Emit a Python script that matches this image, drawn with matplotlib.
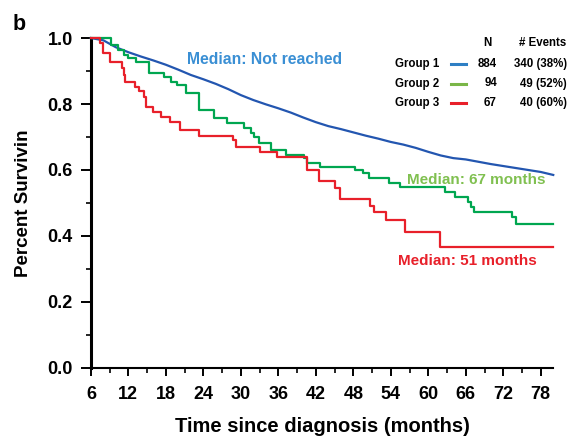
import numpy as np
import matplotlib.pyplot as plt
from matplotlib.ticker import MultipleLocator

plt.rcParams['font.family'] = ['Liberation Sans', 'DejaVu Sans']
plt.rcParams['font.weight'] = 'bold'

# Group 1 (read at 2-month steps)
t1 = [6, 8, 10, 12, 14, 16, 18, 20, 22, 24, 26, 28, 30, 32, 34, 36, 38, 40, 42,
      44, 46, 48, 50, 52, 54, 56, 58, 60, 62, 64, 66, 68, 70, 72, 74, 76, 78, 80]
s1 = [1.0, 0.993, 0.972, 0.957, 0.944, 0.932, 0.919, 0.904, 0.888, 0.875, 0.861,
      0.845, 0.827, 0.812, 0.799, 0.787, 0.774, 0.759, 0.745, 0.733, 0.724, 0.714,
      0.704, 0.695, 0.685, 0.677, 0.667, 0.655, 0.644, 0.636, 0.632, 0.625, 0.618,
      0.612, 0.606, 0.600, 0.594, 0.585]

# Group 2
t2 = [6, 9.2, 10.3, 11.3, 11.9, 13.2, 15.3, 17.7, 18.8, 19.8, 21.2, 23.3, 25.7,
      27.8, 30.5, 31.6, 32.1, 32.9, 34.8, 37.2, 40.1, 40.6, 42.7, 48.3, 49.6,
      50.5, 53.7, 55.5, 62.7, 64.3, 66.4, 66.8, 67.3, 73.4, 74.0, 80]
s2 = [1.0, 0.979, 0.964, 0.950, 0.938, 0.926, 0.895, 0.883, 0.868, 0.858, 0.832,
      0.782, 0.757, 0.742, 0.726, 0.711, 0.701, 0.681, 0.661, 0.645, 0.636, 0.620,
      0.610, 0.600, 0.590, 0.575, 0.561, 0.547, 0.534, 0.519, 0.504, 0.489, 0.474,
      0.457, 0.437, 0.437]

# Group 3
t3 = [6, 7.4, 7.9, 9.0, 11.0, 11.3, 11.5, 13.1, 13.7, 14.5, 14.8, 15.9, 17.3,
      18.7, 20.2, 23.3, 28.8, 29.3, 33.0, 35.8, 40.6, 42.5, 45.1, 45.9, 50.7,
      51.3, 53.2, 56.3, 61.9, 80]
s3 = [1.0, 0.985, 0.954, 0.928, 0.908, 0.888, 0.868, 0.852, 0.838, 0.822, 0.792,
      0.777, 0.762, 0.746, 0.721, 0.703, 0.691, 0.671, 0.656, 0.640, 0.600, 0.567,
      0.544, 0.511, 0.491, 0.474, 0.448, 0.413, 0.368, 0.368]

groups = ['Group 1', 'Group 2', 'Group 3']
n_pts = ['884', '94', '67']
events = ['340 (38%)', '49 (52%)', '40 (60%)']

curve_cols = ['#2356b0', '#00a650', '#e8202a']
legend_cols = ['#2e7fc4', '#7ab648', '#e8202a']

fig = plt.figure(figsize=(5.68, 4.37), dpi=100)
ax = fig.add_axes([0.160, 0.158, 0.814, 0.755])

# group 1 has many small steps, drawn as a continuous line
ax.plot(t1, s1, color=curve_cols[0], linewidth=1.6, clip_on=False, zorder=3)
ax.step(t2, s2, where='post', color=curve_cols[1], linewidth=1.6, clip_on=False, zorder=3)
ax.step(t3, s3, where='post', color=curve_cols[2], linewidth=1.6, clip_on=False, zorder=4)

ax.set_xlim(6, 80)
ax.set_ylim(0, 1.0)
ax.set_xticks(np.arange(6, 79, 6))
ax.xaxis.set_minor_locator(MultipleLocator(3))
ax.set_yticks([0, 0.2, 0.4, 0.6, 0.8, 1.0])
ax.set_yticklabels(['0.0', '0.2', '0.4', '0.6', '0.8', '1.0'])
ax.yaxis.set_minor_locator(MultipleLocator(0.1))

for side in ['top', 'right']:
  ax.spines[side].set_visible(False)
ax.spines['left'].set_linewidth(2.2)
ax.spines['bottom'].set_linewidth(1.5)
ax.tick_params(axis='y', which='major', length=7, width=1.4, labelsize=13, pad=6)
ax.tick_params(axis='x', which='major', length=6, width=1.4, labelsize=13, pad=7)
ax.tick_params(axis='both', which='minor', length=3.5, width=1.2)
for lab in ax.get_xticklabels() + ax.get_yticklabels():
  lab.set_fontweight('bold')

ax.set_xlabel('Time since diagnosis (months)', fontsize=14.5, fontweight='bold',
              labelpad=10)
ax.set_ylabel('Percent Survivin', fontsize=13.5, fontweight='bold', labelpad=11)

# median annotations
ax.text(0.376, 0.935, 'Median: Not reached', transform=ax.transAxes,
        color='#3a8fd4', fontsize=11.3, fontweight='bold', ha='center', va='center')
ax.text(0.833, 0.570, 'Median: 67 months', transform=ax.transAxes,
        color='#80c050', fontsize=11, fontweight='bold', ha='center', va='center')
ax.text(0.815, 0.325, 'Median: 51 months', transform=ax.transAxes,
        color='#e8202a', fontsize=11, fontweight='bold', ha='center', va='center')

# legend table
H = 437.0
def fy(py):
  return 1 - py / H

fig.text(487 / 568, fy(43), 'N', fontsize=8.3, fontweight='bold', ha='center',
         va='center')
fig.text(543 / 568, fy(43), '# Events', fontsize=8.3, fontweight='bold',
         ha='center', va='center')
for i, (g, n, e, c) in enumerate(zip(groups, n_pts, events, legend_cols)):
  y = fy(64 + i * 19.5)
  fig.text(395 / 568, y, g, fontsize=8.3, fontweight='bold', ha='left', va='center')
  fig.add_artist(plt.Line2D([451 / 568, 466 / 568], [y, y], color=c, linewidth=2.2))
  fig.text(497 / 568, y, n, fontsize=8.3, fontweight='bold', ha='right', va='center')
  fig.text(567 / 568, y, e, fontsize=8.3, fontweight='bold', ha='right', va='center')

fig.text(13 / 568, fy(24), 'b', fontsize=15.5, fontweight='bold', ha='left',
         va='center')

fig.savefig('out.png', dpi=100)
